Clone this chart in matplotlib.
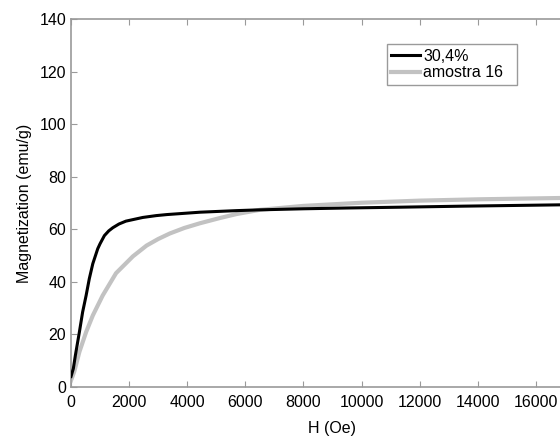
import matplotlib
matplotlib.use("Agg")
import matplotlib.pyplot as plt

plt.rcParams['font.family'] = ['Liberation Sans', 'DejaVu Sans']

# magnetization curves
h_304 = [0, 80, 150, 290, 400, 520, 630, 750, 920, 1000, 1150, 1300, 1440,
         1650, 1890, 2470, 2930, 3300, 4440, 5700, 6500, 8000, 9500, 11300,
         13500, 16830, 18000]
m_304 = [4, 7, 12, 21, 28.5, 34.8, 41.2, 46.9, 52.6, 54.5, 57.6, 59.4, 60.6,
         62.0, 63.1, 64.5, 65.2, 65.6, 66.5, 67.1, 67.4, 67.8, 68.1, 68.4,
         68.8, 69.3, 69.4]

h_a16 = [0, 110, 290, 520, 750, 1090, 1550, 2130, 2600, 3000, 3400, 3900,
         4440, 5130, 5700, 6500, 8000, 10000, 12000, 14000, 16830, 18000]
m_a16 = [2.5, 5.8, 13.4, 20.9, 27.2, 34.8, 43.3, 49.7, 53.8, 56.3, 58.4, 60.5,
         62.3, 64.3, 65.8, 67.4, 68.9, 70.1, 70.9, 71.4, 71.9, 72.0]

x_ticks = list(range(0, 18000, 2000))
y_ticks = list(range(0, 141, 20))

fig = plt.figure(figsize=(5.6, 4.38), dpi=100)
# axes runs past the right edge like in the cropped original
ax = fig.add_axes([71 / 560, 1 - 387 / 438, (594 - 71) / 560, 368 / 438])

ax.plot(h_a16, m_a16, color='#c2c2c2', lw=3.0, label='amostra 16  ', zorder=2)
ax.plot(h_304, m_304, color='black', lw=2.2, label='30,4%', zorder=3)

ax.set_xlim(0, 18000)
ax.set_ylim(0, 140)
ax.set_xticks(x_ticks)
ax.set_yticks(y_ticks)

for s in ax.spines.values():
    s.set_color('#9a9a9a')
    s.set_linewidth(1.2)

ax.tick_params(axis='both', direction='in', length=4, color='#9a9a9a',
               labelsize=11.5, top=True, right=True)
ax.tick_params(axis='x', pad=6)
ax.tick_params(axis='y', pad=3.5)

ax.set_xlabel('H (Oe)', fontsize=11.5, labelpad=8)
ax.set_ylabel('Magnetization (emu/g)', fontsize=11.5, labelpad=5)

handles, labels = ax.get_legend_handles_labels()
leg = ax.legend(handles[::-1], labels[::-1], loc='upper left',
                bbox_to_anchor=((386.7 - 71) / 523, (387 - 44) / 368),
                borderaxespad=0, borderpad=0.3, handlelength=1.8,
                handletextpad=0.2, labelspacing=0.1, fontsize=11.5,
                fancybox=False, framealpha=1, edgecolor='#9a9a9a')
leg.get_frame().set_linewidth(1.0)

fig.savefig('out.png', dpi=100)
